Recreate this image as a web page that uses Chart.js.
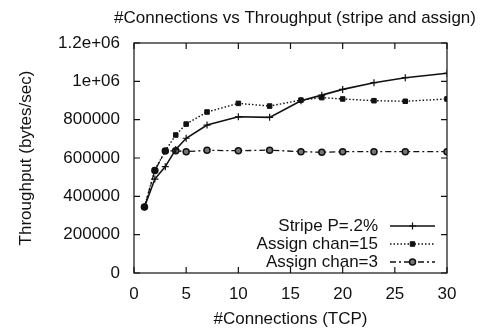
<!DOCTYPE html>
<html>
<head>
<meta charset="utf-8">
<script src="https://cdn.jsdelivr.net/npm/chart.js@4/dist/chart.umd.min.js"></script>
<style>
  html, body { margin: 0; padding: 0; background: #fff; }
</style>
</head>
<body>
<canvas id="tputChart" width="487" height="332"></canvas>
<script>
'use strict';

// values
const connections = [1, 2, 3, 4, 5, 7, 10, 13, 16, 18, 20, 23, 26, 30];
const stripe   = [345000, 490000, 555000, 645000, 703000, 772000, 815000, 812000, 899000, 928000, 958000, 993000, 1019000, 1042000];
const assign15 = [345000, 537000, 638000, 720000, 777000, 840000, 885000, 871000, 902000, 915000, 908000, 899000, 896000, 908000];
const assign3  = [345000, 535000, 636000, 638000, 633000, 640000, 638000, 641000, 633000, 630000, 633000, 633000, 633000, 633000];

const seriesNames = ['Stripe P=.2%', 'Assign chan=15', 'Assign chan=3'];
const xTickValues = [0, 5, 10, 15, 20, 25, 30];
const yTickValues = [0, 200000, 400000, 600000, 800000, 1000000, 1200000];
const yTickLabels = ['0', '200000', '400000', '600000', '800000', '1e+06', '1.2e+06'];
const chartTitle = '#Connections vs Throughput (stripe and assign)';

const INK = '#111';
const FONT = 'Liberation Sans, Arial, Helvetica, sans-serif';

function pts(ys) {
  return connections.map((x, i) => ({ x, y: ys[i] }));
}

// gnuplot-style frame, inward ticks, title and key (text then sample)
const gnuFrame = {
  id: 'gnuFrame',
  afterDatasetsDraw(chart) {
    const { ctx, chartArea: a, scales } = chart;
    ctx.save();
    ctx.strokeStyle = INK;
    ctx.lineWidth = 1.2;
    ctx.setLineDash([]);
    ctx.strokeRect(a.left, a.top, a.right - a.left, a.bottom - a.top);

    const tl = 6;
    ctx.beginPath();
    xTickValues.forEach(v => {
      const px = scales.x.getPixelForValue(v);
      ctx.moveTo(px, a.bottom); ctx.lineTo(px, a.bottom - tl);
      ctx.moveTo(px, a.top);    ctx.lineTo(px, a.top + tl);
    });
    yTickValues.forEach(v => {
      const py = scales.y.getPixelForValue(v);
      ctx.moveTo(a.left, py);  ctx.lineTo(a.left + tl, py);
      ctx.moveTo(a.right, py); ctx.lineTo(a.right - tl, py);
    });
    ctx.stroke();

    // title, slightly right of the plot centre as in the original
    ctx.font = '17px ' + FONT;
    ctx.fillStyle = INK;
    ctx.textAlign = 'center';
    ctx.textBaseline = 'middle';
    ctx.fillText(chartTitle, 295, 18);

    // key
    ctx.textAlign = 'right';
    const textRight = 378, x0 = 390, x1 = 435, rowY = 226, rowH = 18;
    chart.data.datasets.forEach((ds, i) => {
      const y = rowY + i * rowH;
      ctx.fillStyle = INK;
      ctx.fillText(ds.label, textRight, y);
      ctx.beginPath();
      ctx.lineWidth = ds.borderWidth;
      ctx.setLineDash(ds.borderDash || []);
      ctx.moveTo(x0, y); ctx.lineTo(x1, y);
      ctx.stroke();
      ctx.setLineDash([]);
      ctx.fillStyle = ds.pointBackgroundColor;
      ctx.lineWidth = ds.pointBorderWidth;
      Chart.helpers.drawPoint(ctx, { pointStyle: ds.pointStyle, radius: ds.pointRadius, borderWidth: ds.pointBorderWidth, rotation: 0 }, (x0 + x1) / 2, y);
    });
    ctx.restore();
  }
};

new Chart(document.getElementById('tputChart'), {
  type: 'line',
  data: {
    datasets: [
      {
        label: seriesNames[0], data: pts(stripe),
        borderColor: INK, borderWidth: 1.6,
        pointStyle: 'cross', pointRadius: 3.5, pointBorderWidth: 1.2,
        pointBorderColor: INK, pointBackgroundColor: INK
      },
      {
        label: seriesNames[1], data: pts(assign15),
        borderColor: INK, borderWidth: 1.4, borderDash: [1.5, 2],
        pointStyle: 'rect', pointRadius: 3.2, pointBorderWidth: 1,
        pointBorderColor: INK, pointBackgroundColor: INK
      },
      {
        label: seriesNames[2], data: pts(assign3),
        borderColor: INK, borderWidth: 1.3, borderDash: [6, 3, 2, 3],
        pointStyle: 'circle', pointRadius: 3, pointBorderWidth: 1.5,
        pointBorderColor: INK, pointBackgroundColor: '#777'
      }
    ]
  },
  options: {
    responsive: false,
    animation: false,
    layout: { padding: { top: 43, right: 40, left: 0, bottom: 0 } },
    plugins: {
      legend: { display: false },
      tooltip: { enabled: false },
      title: { display: false }
    },
    scales: {
      x: {
        type: 'linear', min: 0, max: 30,
        afterFit: s => { s.height = 59; },
        grid: { display: false },
        border: { display: false },
        ticks: {
          stepSize: 5, color: INK, padding: 3,
          font: { family: FONT, size: 17 },
          maxRotation: 0
        },
        title: {
          display: true, text: '#Connections (TCP)', color: INK,
          font: { family: FONT, size: 17 },
          padding: { top: 0, bottom: 2 }
        }
      },
      y: {
        min: 0, max: 1200000,
        afterFit: s => { s.width = 134; },
        grid: { display: false },
        border: { display: false },
        ticks: {
          stepSize: 200000, color: INK, padding: 6,
          font: { family: FONT, size: 17 },
          callback: v => yTickLabels[yTickValues.indexOf(v)]
        },
        title: {
          display: true, text: 'Throughput (bytes/sec)', color: INK,
          font: { family: FONT, size: 17 },
          padding: { top: 16, bottom: 0 }
        }
      }
    }
  },
  plugins: [gnuFrame]
});
</script>
</body>
</html>
